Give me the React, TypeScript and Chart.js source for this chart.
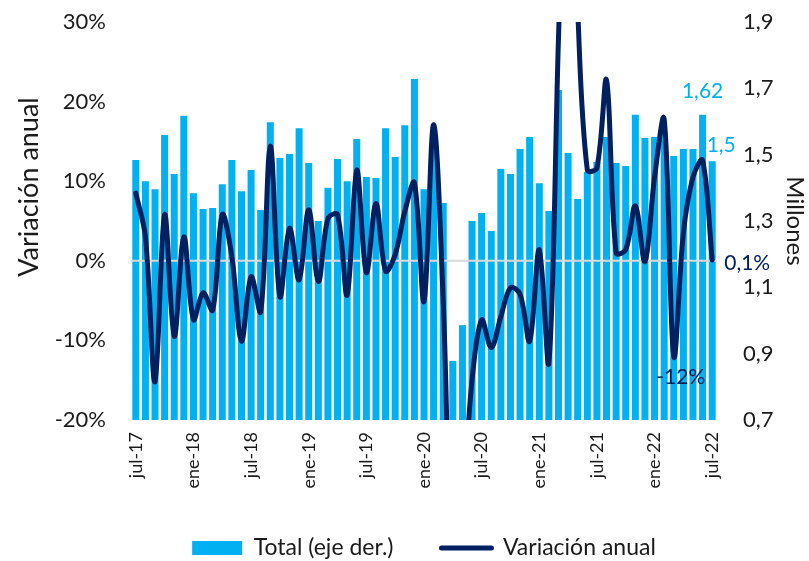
import React, { useEffect, useRef } from 'react';
import { Chart, registerables } from 'chart.js';

Chart.register(...registerables);

// ---------- data ----------
const MONTH_NAMES = ['ene', 'feb', 'mar', 'abr', 'may', 'jun', 'jul', 'ago', 'sep', 'oct', 'nov', 'dic'];
const FIRST_YEAR = 2017;
const FIRST_MONTH = 6; // jul
const N_MONTHS = 61; // jul-17 .. jul-22

const categories: string[] = [];
for (let i = 0; i < N_MONTHS; i++) {
  const m = (FIRST_MONTH + i) % 12;
  const y = FIRST_YEAR + Math.floor((FIRST_MONTH + i) / 12);
  categories.push(`${MONTH_NAMES[m]}-${String(y).slice(2)}`);
}

// Total (millones, eje derecho)
const totalMillones = [
  1.484, 1.42, 1.396, 1.559, 1.442, 1.617, 1.384, 1.336, 1.339, 1.411,
  1.484, 1.39, 1.454, 1.333, 1.598, 1.49, 1.502, 1.58, 1.475, 1.3,
  1.4, 1.487, 1.42, 1.547, 1.433, 1.43, 1.58, 1.493, 1.589, 1.728,
  1.396, 1.525, 1.354, 0.878, 0.986, 1.3, 1.324, 1.27, 1.457, 1.442,
  1.517, 1.553, 1.414, 1.33, 1.695, 1.505, 1.366, 1.448, 1.478, 1.553,
  1.475, 1.466, 1.62, 1.55, 1.553, 1.567, 1.496, 1.517, 1.517, 1.62,
  1.48,
];

// Variación anual (%)
const variacionAnual = [
  8.5, 3, -15.2, 5.8, -9.5, 3.0, -7.4, -4.0, -6.2, 5.8,
  0.5, -10.1, -2.0, -6.4, 14.4, -4.5, 4.1, -2.4, 6.4, -2.6,
  5.3, 5.8, -4.3, 11.4, -1.5, 7.2, -1.3, 0.8, 6.2, 9.8,
  -5.1, 17.1, -5, -41, -31, -15, -7.4, -10.9, -7, -3.4,
  -4.2, -10.1, 1.4, -12.8, 28, 65, 31.5, 11.4, 11.7, 22.7,
  1.0, 1.4, 6.9, -0.1, 10.5, 17.8, -12, 3.5, 10.5, 12.6,
  0.1,
];

const leftTicks = [-20, -10, 0, 10, 20, 30];
const rightTicks = [0.7, 0.9, 1.1, 1.3, 1.5, 1.7, 1.9];
const labelEvery = 6;

const SERIES_BAR = 'Total (eje der.)';
const SERIES_LINE = 'Variación anual';
const LEFT_TITLE = 'Variación anual';
const RIGHT_TITLE = 'Millones';

// ---------- style ----------
const BLUE = '#00B0F0';
const NAVY = '#002060';
const TEXT = '#1a1a1a';
const FONT = "Lato, 'Open Sans', sans-serif";

const fmt = (v: number, d: number) => v.toFixed(d).replace('.', ',');

// data labels: which point, what text, where
const dataLabels = [
  { ds: 0, idx: 59, text: fmt(totalMillones[59], 2), color: BLUE, dx: 0, dy: -24, align: 'center' },
  { ds: 0, idx: 60, text: fmt(totalMillones[60], 1), color: BLUE, dx: 9, dy: -16, align: 'center' },
  { ds: 1, idx: 60, text: fmt(variacionAnual[60], 1) + '%', color: NAVY, dx: 12, dy: 3, align: 'left' },
  { ds: 1, idx: 56, text: fmt(variacionAnual[56], 0) + '%', color: NAVY, dx: 7, dy: 21, align: 'center' },
];

const extrasPlugin = {
  id: 'extras',
  beforeDatasetDraw(chart: any, args: any) {
    if (args.index !== 1) return;
    const { ctx, chartArea } = chart;
    const y = chart.scales.y.getPixelForValue(0);
    ctx.save();
    ctx.strokeStyle = '#D9D9D9';
    ctx.lineWidth = 2;
    ctx.beginPath();
    ctx.moveTo(chartArea.left, y);
    ctx.lineTo(chartArea.right, y);
    ctx.stroke();
    ctx.restore();
  },
  afterDraw(chart: any) {
    const { ctx } = chart;
    ctx.save();
    ctx.font = `21px ${FONT}`;
    ctx.textBaseline = 'middle';
    for (const l of dataLabels) {
      const el = chart.getDatasetMeta(l.ds).data[l.idx];
      ctx.fillStyle = l.color;
      ctx.textAlign = l.align as CanvasTextAlign;
      ctx.fillText(l.text, el.x + l.dx, el.y + l.dy);
    }
    // left axis title
    ctx.translate(29, 187);
    ctx.rotate(-Math.PI / 2);
    ctx.font = `27px ${FONT}`;
    ctx.fillStyle = TEXT;
    ctx.textAlign = 'center';
    ctx.fillText(LEFT_TITLE, 0, 0);
    ctx.restore();
  },
};

export default function App() {
  const ref = useRef<HTMLCanvasElement>(null);
  useEffect(() => {
    document.body.style.margin = '0';
    const chart = new Chart(ref.current as HTMLCanvasElement, {
      type: 'bar',
      data: {
        labels: categories,
        datasets: [
          {
            type: 'bar',
            label: SERIES_BAR,
            data: totalMillones,
            yAxisID: 'y1',
            backgroundColor: BLUE,
            borderWidth: 0,
            barPercentage: 0.73,
            categoryPercentage: 1,
            base: 0.7,
            order: 2,
          } as any,
          {
            type: 'line',
            label: SERIES_LINE,
            data: variacionAnual,
            yAxisID: 'y',
            borderColor: NAVY,
            borderWidth: 5,
            pointRadius: 0,
            tension: 0.35,
            fill: false,
            order: 1,
          } as any,
        ],
      },
      options: {
        responsive: false,
        animation: false,
        events: [],
        layout: { padding: { left: 0, right: 0, top: 22, bottom: -8.5 } },
        font: { family: FONT },
        elements: { line: { capBezierPoints: false, borderCapStyle: 'round', borderJoinStyle: 'round' } },
        plugins: {
          tooltip: { enabled: false },
          legend: {
            position: 'bottom',
            fullSize: false,
            labels: {
              usePointStyle: true,
              pointStyleWidth: 50,
              boxHeight: 14,
              padding: 48,
              color: TEXT,
              font: { size: 23, family: FONT },
              generateLabels: () => [
                { text: SERIES_BAR, fillStyle: BLUE, strokeStyle: BLUE, lineWidth: 0, pointStyle: 'rect', hidden: false, datasetIndex: 0, fontColor: TEXT },
                { text: SERIES_LINE, fillStyle: NAVY, strokeStyle: NAVY, lineWidth: 5, lineCap: 'round', pointStyle: 'line', hidden: false, datasetIndex: 1, fontColor: TEXT },
              ] as any,
            },
          },
        },
        scales: {
          x: {
            type: 'category',
            grid: { display: false, drawTicks: false },
            border: { display: false },
            ticks: {
              autoSkip: false,
              minRotation: 90,
              maxRotation: 90,
              padding: 12,
              color: TEXT,
              font: { size: 18, family: FONT },
              callback: (_v: any, i: number) => (i % labelEvery === 0 ? categories[i] : ''),
            },
            afterFit: (s: any) => { s.height = 68.5; },
          },
          y: {
            type: 'linear',
            position: 'left',
            min: leftTicks[0],
            max: leftTicks[leftTicks.length - 1],
            grid: { display: false, drawTicks: true, tickLength: 17 },
            border: { display: false },
            afterBuildTicks: (s: any) => { s.ticks = leftTicks.map((v) => ({ value: v })); },
            ticks: {
              padding: 8,
              color: TEXT,
              font: { size: 22, family: FONT },
              callback: (v: any) => `${v}%`,
            },
            afterFit: (s: any) => { s.width = 131; },
          },
          y1: {
            type: 'linear',
            position: 'right',
            min: rightTicks[0],
            max: rightTicks[rightTicks.length - 1],
            grid: { display: false, drawTicks: true, tickLength: 18 },
            border: { display: false },
            afterBuildTicks: (s: any) => { s.ticks = rightTicks.map((v) => ({ value: v })); },
            ticks: {
              padding: 8,
              color: TEXT,
              font: { size: 22, family: FONT },
              callback: (v: any) => fmt(Number(v), 1),
            },
            title: {
              display: true,
              text: RIGHT_TITLE,
              color: TEXT,
              font: { size: 24, family: FONT },
              padding: { top: 0, bottom: 0 },
            },
            afterFit: (s: any) => { s.width = 92; },
          },
        },
      },
      plugins: [extrasPlugin],
    } as any);
    return () => chart.destroy();
  }, []);
  return (
    <div style={{ width: 809, height: 561 }}>
      <canvas ref={ref} width={809} height={561} style={{ display: 'block' }} />
    </div>
  );
}
